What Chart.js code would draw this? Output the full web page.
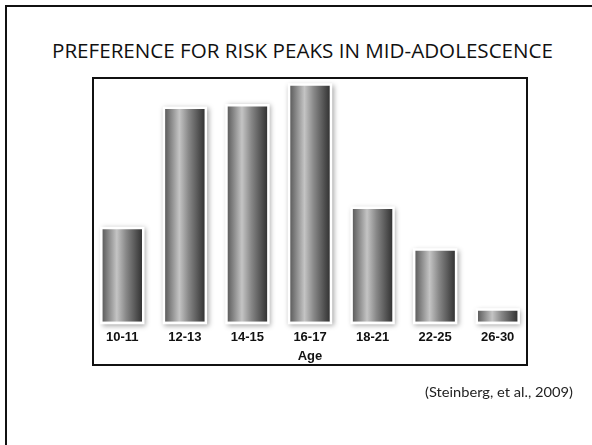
<!DOCTYPE html>
<html>
<head>
<meta charset="utf-8">
<script src="https://cdn.jsdelivr.net/npm/chart.js@4"></script>
<style>
  html, body { margin: 0; padding: 0; background: #fff; }
  body { width: 592px; height: 445px; position: relative; overflow: hidden; }
  #frame { position: absolute; left: 5px; top: 5px; width: 620px; height: 500px;
           border: 2.5px solid #111; box-sizing: border-box; }
  #titulo { position: absolute; left: 52px; top: 38px; white-space: nowrap;
            font-family: "Open Sans", sans-serif; font-size: 19.5px; color: #111;
            transform-origin: left top; line-height: 26px; }
  #cita { position: absolute; left: 425px; top: 382px; white-space: nowrap;
          font-family: Lato, sans-serif; font-size: 14px; color: #222;
          transform-origin: left top; line-height: 20px; }
  #caja { position: absolute; left: 92px; top: 77px; width: 436px; height: 289px;
          border: 2px solid #111; box-sizing: border-box; pointer-events: none; }
  #grafico { position: absolute; left: 0; top: 0; }
</style>
</head>
<body>
<div id="frame"></div>
<div id="titulo">PREFERENCE FOR RISK PEAKS IN MID-ADOLESCENCE</div>
<canvas id="grafico" width="592" height="445"></canvas>
<div id="caja"></div>
<div id="cita">(Steinberg, et al., 2009)</div>
<script>
const EDADES = ['10-11', '12-13', '14-15', '16-17', '18-21', '22-25', '26-30'];
const PREFERENCIA = [39.2, 90.1, 91.2, 100, 47.8, 30.1, 4.7];
const Y_MAX = 102;

// ajustar ancho de los textos
const ajustar = (id, ancho) => {
  const el = document.getElementById(id);
  const w = el.getBoundingClientRect().width;
  el.style.transform = 'scaleX(' + (ancho / w) + ')';
};
ajustar('titulo', 501);
ajustar('cita', 148);

// brillo blanco + sombra, y degradado de cada barra
const barrasCilindro = {
  id: 'barrasCilindro',
  beforeDatasetsDraw: chart => {
    const ctx = chart.ctx;
    chart.getDatasetMeta(0).data.forEach(bar => {
      const { x, y, base, width } = bar.getProps(['x', 'y', 'base', 'width'], true);
      const izq = x - width / 2;
      ctx.save();
      ctx.shadowColor = 'rgba(0,0,0,0.35)';
      ctx.shadowBlur = 5;
      ctx.shadowOffsetX = 1.5;
      ctx.shadowOffsetY = 1.5;
      ctx.fillStyle = '#fff';
      ctx.fillRect(izq - 2.5, y - 2.5, width + 5, base - y + 5);
      ctx.restore();

      const g = ctx.createLinearGradient(izq, 0, izq + width, 0);
      g.addColorStop(0, '#5e5e5e');
      g.addColorStop(0.36, '#c4c4c4');
      g.addColorStop(0.6, '#878787');
      g.addColorStop(1, '#333');
      bar.options = Object.assign({}, bar.options, { backgroundColor: g });
    });
  },
};

const fuente = { family: '"Liberation Sans", Arial, sans-serif', size: 13, weight: 'bold' };

new Chart(document.getElementById('grafico'), {
  type: 'bar',
  data: {
    labels: EDADES,
    datasets: [
      {
        data: PREFERENCIA,
        backgroundColor: '#888',
        borderWidth: 0,
        categoryPercentage: 1,
        barPercentage: 0.63,
      },
    ],
  },
  options: {
    responsive: false,
    animation: false,
    layout: { padding: { left: 91, right: 63, top: 81, bottom: 81 } },
    plugins: { legend: { display: false }, tooltip: { enabled: false } },
    scales: {
      x: {
        grid: { display: false },
        border: { display: false },
        ticks: { padding: 0, color: '#111', font: fuente },
        title: {
          display: true,
          text: 'Age',
          color: '#111',
          padding: { top: 3, bottom: 0 },
          font: fuente,
        },
      },
      y: { display: false, min: 0, max: Y_MAX },
    },
  },
  plugins: [barrasCilindro],
});
</script>
</body>
</html>
